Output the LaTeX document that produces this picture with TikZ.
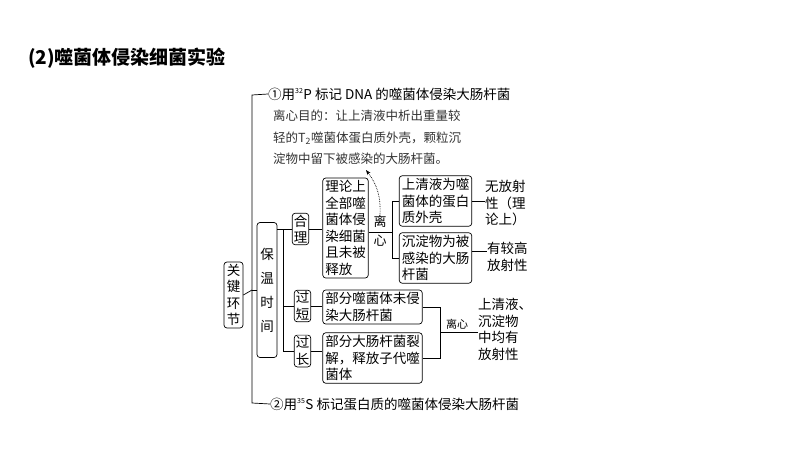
\documentclass[tikz,border=0pt]{standalone}
\usepackage{fontspec}
\setmainfont{Noto Sans CJK SC}
\usetikzlibrary{positioning,arrows.meta}
\tikzset{
  box/.style={draw,rounded corners=3pt,line width=0.7pt,inner sep=2.5pt,align=left,font=\fontsize{13.5}{16.5}\selectfont},
  txt/.style={inner sep=0pt,align=left,font=\fontsize{13.5}{16.5}\selectfont},
  hand/.style={inner sep=0pt,anchor=west,font=\fontsize{12.5}{14}\selectfont,text=black!80},
  link/.style={line width=0.7pt}
}
\begin{document}
\begin{tikzpicture}[x=1pt,y=-1pt]
  \useasboundingbox (0,0) rectangle (800,450);
  % title
  \node[inner sep=0pt,anchor=west,font=\bfseries\fontsize{19}{22}\selectfont] (title) at (28,58) {(2)噬菌体侵染细菌实验};

  % main bracket
  \coordinate (top) at (252,95);
  \coordinate (bot) at (252,403);
  \node[txt,anchor=west] (p32) at (268,94) {①用\textsuperscript{\scriptsize 32}P 标记 DNA 的噬菌体侵染大肠杆菌};
  \node[txt,anchor=west] (s35) at (270,404) {②用\textsuperscript{\scriptsize 35}S 标记蛋白质的噬菌体侵染大肠杆菌};
  \draw[link] (p32.west) -- (top) -- (bot) -- (s35.west);

  % handwritten note
  \node[hand] (n1) at (273,116) {离心目的：让上清液中析出重量较};
  \node[hand] (n2) at (273,138) {轻的T\textsubscript{2}噬菌体蛋白质外壳，颗粒沉};
  \node[hand] (n3) at (273,159) {淀物中留下被感染的大肠杆菌。};

  % left boxes
  \node[box,minimum width=19pt,minimum height=66pt,align=center,inner sep=1pt] (key) at (233.5,295) {关\\键\\环\\节};
  \node[box,minimum width=20pt,minimum height=135pt,align=center,inner sep=1pt,font=\fontsize{13.5}{24}\selectfont] (keep) at (267,290) {保\\温\\时\\间};
  \draw[link] (key.east) -- (keep.west -| top);
  \draw[link] (keep.west -| top) -- (keep.west);

  % branches
  \node[box,align=center,inner sep=1.5pt] (ok) at (300.5,229) {合\\理};
  \node[box,align=center,inner sep=1.5pt] (short) at (302.5,306) {过\\短};
  \node[box,align=center,inner sep=1.5pt] (long) at (302.5,351) {过\\长};
  \coordinate (bx) at (283,0);
  \draw[link] (keep.east |- ok) -- (ok.west);
  \draw[link] (ok.west -| bx) -- (long.west -| bx) -- (long.west);
  \draw[link] (short.west -| bx) -- (short.west);

  % reasonable
  \node[box] (theory) at (345.5,228) {理论上\\全部噬\\菌体侵\\染细菌\\且未被\\释放};
  \draw[link] (ok.east) -- (theory.west |- ok);
  \node[box] (sup) at (435.5,201) {上清液为噬\\菌体的蛋白\\质外壳};
  \node[box] (sed) at (435.5,258) {沉淀物为被\\感染的大肠\\杆菌};
  \node[txt,align=center,font=\fontsize{13}{19}\selectfont] (cent) at (380,231) {离\\心};
  \coordinate (cx) at (392,0);
  \draw[link] (theory.east |- 0,232) -- (cx |- 0,232);
  \draw[link] (sup.west -| cx) -- (sed.west -| cx);
  \draw[link] (sup.west -| cx) -- (sup.west);
  \draw[link] (sed.west -| cx) -- (sed.west);
  \node[txt,anchor=north west] (none) at (485,180) {无放射\\性（理\\论上）};
  \node[txt,anchor=north west] (high) at (487,242) {有较高\\放射性};
  \draw[link] (sup.east) -- (none.west |- sup.east);
  \draw[link] (sed.east |- 0,251) -- (high.west |- 0,251);
  \draw[densely dotted,line width=0.7pt,-{Stealth[length=5pt]}] (cent.north) to[bend right=20] (366,170);

  % short / long
  \node[box] (miss) at (372.5,307) {部分噬菌体未侵\\染大肠杆菌};
  \node[box] (lyse) at (372.5,358) {部分大肠杆菌裂\\解，释放子代噬\\菌体};
  \draw[link] (short.east) -- (miss.west |- short.east);
  \draw[link] (long.east) -- (lyse.west |- long.east);
  \coordinate (rx) at (440,0);
  \draw[link] (miss.east) -- (miss.east -| rx) -- (lyse.east -| rx) -- (lyse.east);
  \node[txt,anchor=north west] (both) at (478,298) {上清液、\\沉淀物\\中均有\\放射性};
  \draw[link] (rx |- 0,332) -- (both.west |- 0,332);
  \node[txt,font=\fontsize{11}{12}\selectfont,anchor=south] (cent2) at (457,330) {离心};
\end{tikzpicture}
\end{document}
